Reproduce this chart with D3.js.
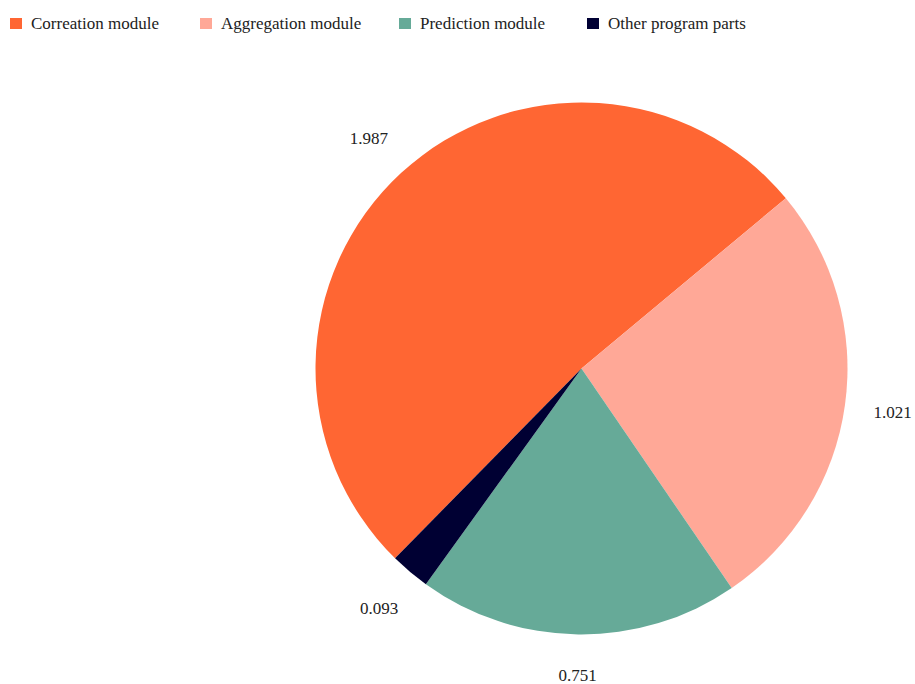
<!DOCTYPE html>
<html>
<head>
<meta charset="utf-8">
<script src="https://cdn.jsdelivr.net/npm/d3@7"></script>
<style>
  body { margin: 0; background: #fff; }
  text { font-family: "Liberation Serif", "Times New Roman", serif; fill: #222; }
</style>
</head>
<body>
<script>
var categories = ["Correation module", "Aggregation module", "Prediction module", "Other program parts"];
var values = [1.987, 1.021, 0.751, 0.093];
var colors = ["#ff6633", "#ffa897", "#66aa98", "#000033"];

const width = 915, height = 684;
const cx = 581.5, cy = 368.5, radius = 266;
const labelRadius = radius + 48;

var svg = d3.select("body").append("svg")
  .attr("width", width)
  .attr("height", height);

// legend
var legendX = [10, 200, 399, 587];
var legend = svg.append("g").attr("class", "legend");
var items = legend.selectAll("g")
  .data(categories)
  .enter()
  .append("g")
  .attr("transform", (d, i) => `translate(${legendX[i]}, 18)`);
items.append("rect")
  .attr("width", 12)
  .attr("height", 11)
  .attr("fill", (d, i) => colors[i]);
items.append("text")
  .attr("x", 21)
  .attr("y", 11)
  .style("font-size", "17px")
  .text(d => d);

// pie
var pie = d3.pie()
  .sort(null)
  .startAngle(-135.5 * Math.PI / 180)
  .endAngle(224.5 * Math.PI / 180);
var arcs = pie(values);

var arc = d3.arc().innerRadius(0).outerRadius(radius);
var labelArc = d3.arc().innerRadius(labelRadius).outerRadius(labelRadius);

var g = svg.append("g").attr("transform", `translate(${cx}, ${cy})`);
g.selectAll("path")
  .data(arcs)
  .enter()
  .append("path")
  .attr("d", arc)
  .attr("fill", (d, i) => colors[i]);

g.selectAll("text.label")
  .data(arcs)
  .enter()
  .append("text")
  .attr("class", "label")
  .attr("text-anchor", "middle")
  .attr("dy", "0.35em")
  .style("font-size", "17px")
  .attr("x", d => labelArc.centroid(d)[0])
  .attr("y", d => Math.min(labelArc.centroid(d)[1], height - 9 - cy))
  .text(d => d.data);
</script>
</body>
</html>
